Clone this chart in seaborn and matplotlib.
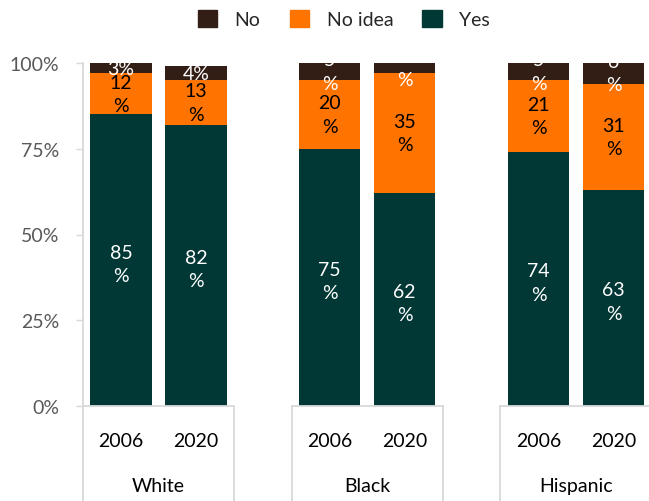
import matplotlib
matplotlib.use("Agg")
import matplotlib.pyplot as plt
import matplotlib.transforms as mtransforms
from matplotlib.patches import Patch
import seaborn as sns
import pandas as pd

# ---- data ----
groups = ["White", "Black", "Hispanic"]
years = ["2006", "2020"]
yes_vals = [85, 82, 75, 62, 74, 63]
noidea_vals = [12, 13, 20, 35, 21, 31]
no_vals = [3, 4, 5, 3, 5, 6]
no_label_wrap = [False, False, True, True, True, True]

# ---- style ----
sns.set_theme(style="white")
plt.rcParams["font.family"] = ["Lato", "DejaVu Sans"]

C_NO = "#331e15"
C_IDEA = "#ff7300"
C_YES = "#013836"
GRID = "#d9d9d9"
FS = 14

step, gstep = 1.02, 2.84
pos = []
labels = []
grp = []
for gi, g in enumerate(groups):
    for yi, y in enumerate(years):
        pos.append(gi * gstep + yi * step)
        labels.append(y)
        grp.append(g)

df = pd.DataFrame({
    "pos": pos, "group": grp, "year": labels,
    "yes": yes_vals, "noidea": noidea_vals, "no": no_vals,
})
df["c_idea"] = df["yes"] + df["noidea"]
df["c_no"] = df["c_idea"] + df["no"]

fig = plt.figure(figsize=(6.49, 5.02), dpi=100)
ax = fig.add_axes([83 / 649, (502 - 407) / 502, 1 - 83 / 649, (407 - 64) / 502])

w = 0.82
for col, c in [("c_no", C_NO), ("c_idea", C_IDEA), ("yes", C_YES)]:
    sns.barplot(data=df, x="pos", y=col, native_scale=True, color=c,
                saturation=1, width=w, errorbar=None, linewidth=0, ax=ax)

# value labels
LS = 1.45
for _, r in df.iterrows():
    ax.text(r.pos, r.yes / 2 - 1, f"{r.yes}\n%", ha="center", va="center",
            color="white", fontsize=FS, linespacing=LS)
    ax.text(r.pos, r.yes + r.noidea / 2, f"{r.noidea}\n%", ha="center",
            va="center", color="black", fontsize=FS, linespacing=LS)
for (_, r), wrap in zip(df.iterrows(), no_label_wrap):
    txt = f"{r['no']}\n%" if wrap else f"{r['no']}%"
    ax.text(r.pos, r.c_idea + r["no"] / 2, txt,
            ha="center", va="center", color="white", fontsize=FS,
            linespacing=LS)

# axes limits
x0 = -0.517
ax.set_xlim(x0, x0 + (649 - 83) / 73.5)
ax.set_ylim(0, 100)
ax.set_yticks([0, 25, 50, 75, 100])
ax.set_yticklabels([f"{v}%" for v in [0, 25, 50, 75, 100]], color="#595959",
                   fontsize=FS)
ax.tick_params(axis="y", which="both", left=True, length=5, width=1,
               color=GRID, pad=12)
ax.set_xticks(pos)
ax.set_xticklabels(labels, fontsize=FS, color="black")
ax.tick_params(axis="x", length=0, pad=19)
ax.set_xlabel("")
ax.set_ylabel("")
for s in ["top", "right", "bottom"]:
    ax.spines[s].set_visible(False)
ax.spines["left"].set_color(GRID)
ax.spines["left"].set_linewidth(1.3)

# multi-level category boxes
trans = mtransforms.blended_transform_factory(ax.transData, ax.transAxes)
ybot = -95 / 343
for gi, g in enumerate(groups):
    ps = pos[gi * 2: gi * 2 + 2]
    left, right = ps[0] - 0.52, ps[-1] + 0.52
    if gi == 0:
        left = x0
    ax.plot([left, right], [0, 0], color=GRID, lw=1.3, transform=trans,
            clip_on=False)
    ax.plot([left, left], [0, ybot], color=GRID, lw=1.3, transform=trans,
            clip_on=False)
    ax.plot([right, right], [0, ybot], color=GRID, lw=1.3, transform=trans,
            clip_on=False)
    ax.text((ps[0] + ps[-1]) / 2, -80 / 343, g, transform=trans,
            ha="center", va="center", fontsize=FS, color="black")

handles = [Patch(color=C_NO, label="No"), Patch(color=C_IDEA, label="No idea"),
           Patch(color=C_YES, label="Yes")]
fig.legend(handles=handles, loc="center", bbox_to_anchor=(0.53, 0.96),
           ncol=3, frameon=False, fontsize=FS, handlelength=1.0,
           handleheight=1.0, handletextpad=0.9, columnspacing=1.5)

fig.savefig("out.png", dpi=100)
